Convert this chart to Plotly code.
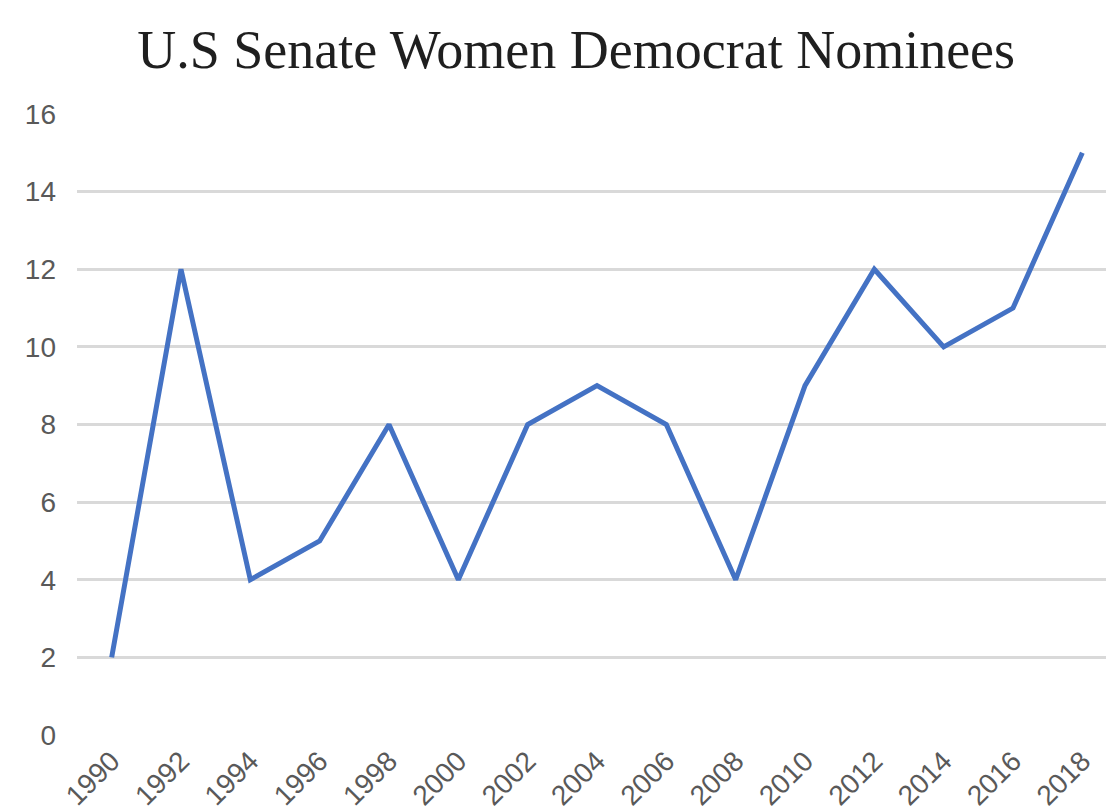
import plotly.graph_objects as go

years = ["1990", "1992", "1994", "1996", "1998", "2000", "2002", "2004",
         "2006", "2008", "2010", "2012", "2014", "2016", "2018"]
nominees = [2, 12, 4, 5, 8, 4, 8, 9, 8, 4, 9, 12, 10, 11, 15]
y_ticks = [0, 2, 4, 6, 8, 10, 12, 14, 16]

fig = go.Figure()
fig.add_trace(go.Scatter(
    x=years, y=nominees,
    mode="lines",
    line=dict(color="#4472C4", width=5),
    showlegend=False,
))

# page has an 8px body margin, so offsets below account for it
fig.update_layout(
    width=1114, height=812,
    paper_bgcolor="white", plot_bgcolor="white",
    margin=dict(l=69, r=5, t=106, b=85, autoexpand=False),
    title=dict(
        text="U.S Senate Women Democrat Nominees",
        x=0.51, xanchor="center", y=0.95, yanchor="middle",
        font=dict(family="Liberation Serif", size=54, color="#1f1f1f"),
    ),
    font=dict(family="Liberation Sans", color="#595959"),
)
fig.update_xaxes(
    type="category", range=[-0.5, 14.5],
    tickangle=-45, tickfont=dict(size=28, color="#595959"),
    showgrid=False, showline=False, ticks="", automargin=False,
    ticklabelstandoff=3,
)
fig.update_yaxes(
    range=[0, 16], tickvals=y_ticks,
    tickfont=dict(size=28, color="#595959"),
    showgrid=True, gridcolor="#d9d9d9", gridwidth=3,
    zeroline=False, showline=False, ticks="",
    ticklabelstandoff=20, automargin=False,
)

fig.write_html("out.html")
